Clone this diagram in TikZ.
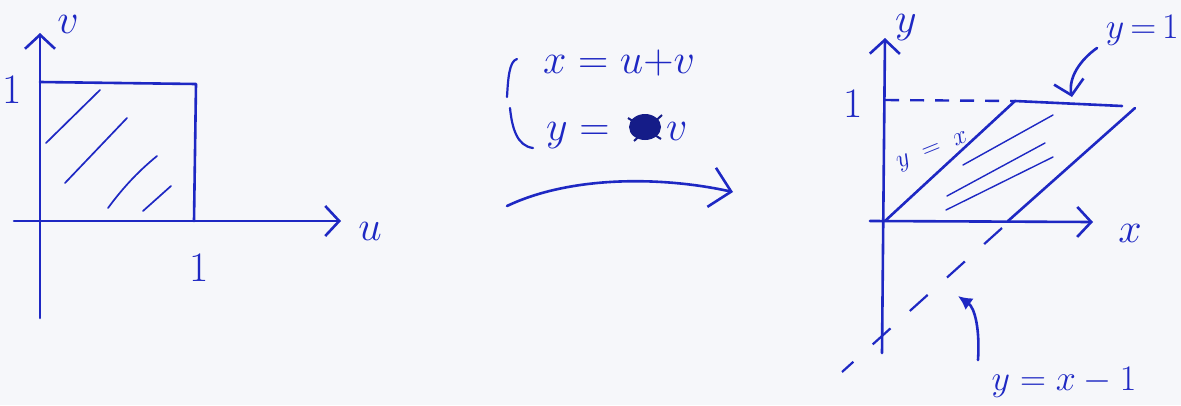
\documentclass[tikz,border=0pt]{standalone}
\usepackage{fix-cm}
\usetikzlibrary{arrows.meta}
\definecolor{ink}{RGB}{30,40,195}
\definecolor{paper}{RGB}{246,247,250}
\tikzset{
  inkline/.style={draw=ink, line width=2.6pt, line cap=round, line join=round},
  hatch/.style={draw=ink, line width=1.7pt, line cap=round},
  chev/.style={-{Straight Barb[length=14pt,width=30pt,line width=2.6pt]}},
  bigchev/.style={-{Straight Barb[length=20pt,width=40pt,line width=2.6pt]}},
  lbl/.style={text=ink, inner sep=0pt, font=\fontsize{42}{46}\selectfont},
  midlbl/.style={text=ink, inner sep=0pt, font=\fontsize{36}{40}\selectfont},
  smalllbl/.style={text=ink, inner sep=0pt, font=\fontsize{26}{30}\selectfont},
  dashedline/.style={draw=ink, line width=2.4pt, dash pattern=on 14pt off 11pt},
  longdash/.style={draw=ink, line width=2.2pt, dash pattern=on 24pt off 26pt}
}
\begin{document}
\begin{tikzpicture}[x=1pt,y=-1pt]
\fill[paper] (0,0) rectangle (1181,405);
\useasboundingbox (0,0) rectangle (1181,405);

% ---------------- left figure ----------------
\coordinate (vbot) at (40,318);
\coordinate (vtop) at (40,33);
\coordinate (uleft) at (14,221);
\coordinate (uright) at (341,221);
\coordinate (sqA) at (40,82);
\coordinate (sqB) at (196,84);
\coordinate (sqC) at (194,221);
\draw[inkline,chev] (vbot) -- (vtop);
\draw[inkline,chev] (uleft) -- (uright);
\draw[inkline] (sqA) -- (sqB) -- (sqC);
\node[lbl] (vlab) at (68,24) {$v$};
\node[lbl] (ulab) at (370,231) {$u$};
\node[lbl] (oneL) at (12,90) {1};
\node[lbl] (oneB) at (199,268) {1};
\draw[hatch] (46,143) -- (100,90);
\draw[hatch] (65,183) -- (127,118);
\draw[hatch] (108,208) .. controls (125,185) and (140,170) .. (157,156);
\draw[hatch] (143,211) -- (171,186);

% ---------------- middle ----------------
\draw[inkline, line width=2.2pt] (517,59) .. controls (509,61) and (508,80) .. (507,97);
\draw[inkline, line width=2.2pt] (510,108) .. controls (512,128) and (517,146) .. (533,148);
\node[lbl] (eqone) at (619,63) {$x = u{+}v$};
\node[lbl, anchor=base west] (eqtwo) at (546,140) {$y =$};
\fill[ink!70!black] (645,127) ellipse (16pt and 13pt);
\draw[ink!70!black, line width=2pt] (628,118) -- (661,139) (634,141) -- (662,115);
\node[lbl, anchor=base west] (eqv) at (666,140) {$v$};
\coordinate (mapS) at (507,206);
\coordinate (mapE) at (733,192);
\draw[inkline,bigchev] (mapS) .. controls (570,176) and (660,176) .. (mapE);

% ---------------- right figure ----------------
\coordinate (ybot) at (882,353);
\coordinate (ytop) at (885,38);
\coordinate (xleft) at (870,221);
\coordinate (xright) at (1093,222);
\coordinate (O2) at (885,221);
\coordinate (P1) at (1015,101);
\coordinate (P2) at (1122,106);
\coordinate (Q0) at (1008,221);
\coordinate (Q1) at (1135,108);
\coordinate (Y1) at (885,100);
\coordinate (D0) at (1002,228);
\coordinate (D1) at (842,372);
\draw[inkline,chev] (ybot) -- (ytop);
\draw[inkline,chev] (xleft) -- (xright);
\draw[dashedline] (Y1) -- (P1);
\draw[inkline] (O2) -- (P1) -- (P2);
\draw[inkline] (Q0) -- (Q1);
\draw[longdash] (D0) -- (D1);
\draw[hatch, line width=1.4pt] (963,165) -- (1053,115);
\draw[hatch, line width=1.4pt] (947,196) -- (1045,143);
\draw[hatch, line width=1.4pt] (946,210) -- (1053,157);
\node[lbl] (ylab) at (906,28) {$y$};
\node[lbl] (xlab) at (1130,233) {$x$};
\node[lbl] (oneR) at (853,104) {1};
\node[smalllbl, rotate=22] (yx) at (933,152) {$y\;=\;x$};
\node[midlbl, anchor=east] (yone) at (1179,30) {$y\,{=}\,1$};
\node[midlbl] (yxm) at (1064,382) {$y = x - 1$};
\coordinate (a1s) at (1097,48);
\coordinate (a1e) at (1072,97);
\draw[inkline,chev] (a1s) .. controls (1080,60) and (1068,78) .. (a1e);
\coordinate (a2s) at (978,360);
\coordinate (a2e) at (958,296);
\draw[inkline,-{Latex[length=14pt,width=14pt]}] (a2s) .. controls (980,330) and (975,308) .. (a2e);
\end{tikzpicture}
\end{document}
